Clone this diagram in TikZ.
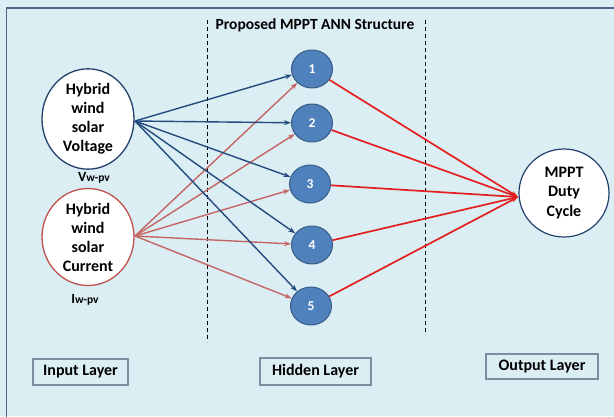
\documentclass[tikz,border=0pt]{standalone}
\usepackage{fontspec}
\setmainfont{Carlito}
\usetikzlibrary{arrows.meta,shapes.geometric}
\definecolor{bgblue}{HTML}{DBEEF4}
\definecolor{framec}{HTML}{4A6787}
\definecolor{vblue}{HTML}{24416B}
\definecolor{ired}{HTML}{C0504D}
\definecolor{hfill}{HTML}{4F81BD}
\definecolor{hdraw}{HTML}{385D8A}
\definecolor{arrblue}{HTML}{244B7E}
\definecolor{arrred}{HTML}{C66664}
\definecolor{outred}{HTML}{E3201F}
\definecolor{boxc}{HTML}{7D8EA0}
\tikzset{
  inell/.style={ellipse, draw, line width=1.3pt, fill=white, inner sep=0pt, align=center,
    font=\fontsize{16}{19}\selectfont\bfseries},
  hid/.style={ellipse, draw=hdraw, fill=hfill, line width=1pt, minimum width=41pt, minimum height=38pt,
    inner sep=0pt, text=white, font=\fontsize{13.5}{15}\selectfont\bfseries},
  layerbox/.style={draw=boxc, line width=1.2pt, inner sep=0pt, font=\fontsize{16}{19}\selectfont\bfseries},
  sublab/.style={inner sep=0pt, anchor=base},
  bluearr/.style={arrblue, line width=1.4pt, -{Stealth[length=7pt,width=5pt]}},
  redarr/.style={arrred, line width=1.4pt, -{Stealth[length=7pt,width=5pt]}},
  outarr/.style={outred, line width=1.7pt, -{Stealth[length=7pt,width=5pt]}},
  divider/.style={black, line width=0.9pt, dash pattern=on 4pt off 3pt}
}
\begin{document}
\begin{tikzpicture}[x=1pt,y=-1pt]
\useasboundingbox (0,0) rectangle (614,416);
\fill[bgblue] (0,0) rectangle (614,416);
\draw[framec, line width=1.5pt] (6.5,420) -- (6.5,8) -- (620,8);

% title and dividers
\node[inner sep=0pt, font=\fontsize{15.5}{18}\selectfont\bfseries] (title) at (315,25) {Proposed MPPT ANN Structure};
\coordinate (d1a) at (207,20); \coordinate (d1b) at (207,342);
\coordinate (d2a) at (425,20); \coordinate (d2b) at (425,335);
\draw[divider] (d1a) -- (d1b);
\draw[divider] (d2a) -- (d2b);

% input nodes
\node[inell, draw=vblue, minimum width=92pt, minimum height=96pt] (V) at (88,119) {Hybrid\\wind\\solar\\Voltage};
\node[inell, draw=ired, minimum width=92pt, minimum height=97pt] (I) at (88,237) {Hybrid\\wind\\solar\\Current};
\node[sublab] (vl) at (94,181) {\bfseries\fontsize{14}{16}\selectfont V\fontsize{11.5}{13}\selectfont w-pv};
\node[sublab] (il) at (85,303) {\bfseries\fontsize{14}{16}\selectfont I\fontsize{11.5}{13}\selectfont w-pv};

% hidden nodes
\node[hid] (h1) at (312,69) {1};
\node[hid] (h2) at (312,123) {2};
\node[hid] (h3) at (310,184) {3};
\node[hid] (h4) at (312,245) {4};
\node[hid] (h5) at (311,306) {5};

% output node
\node[inell, draw=vblue, line width=1.2pt, minimum width=90pt, minimum height=88pt,
  font=\fontsize{16}{19.5}\selectfont\bfseries] (O) at (564,193) {MPPT\\Duty\\Cycle};

% connector origins
\coordinate (vs) at (135,121);
\coordinate (is) at (135,236);
\coordinate (ot) at (518,197);

\foreach \h in {h1,h2,h3,h4,h5} {
  \draw[redarr] (is) -- (\h);
}
\foreach \h in {h1,h2,h3,h4,h5} {
  \draw[bluearr] (vs) -- (\h);
}
\foreach \h in {h1,h2,h3,h4,h5} {
  \draw[outarr] (\h) -- (ot);
}

% layer labels
\node[layerbox, minimum width=95pt, minimum height=26pt] (inl) at (80.5,372) {Input Layer};
\node[layerbox, minimum width=111pt, minimum height=27pt] (hl) at (315.5,371.5) {Hidden Layer};
\node[layerbox, minimum width=112pt, minimum height=25pt] (ol) at (542,366.5) {Output Layer};
\end{tikzpicture}
\end{document}
